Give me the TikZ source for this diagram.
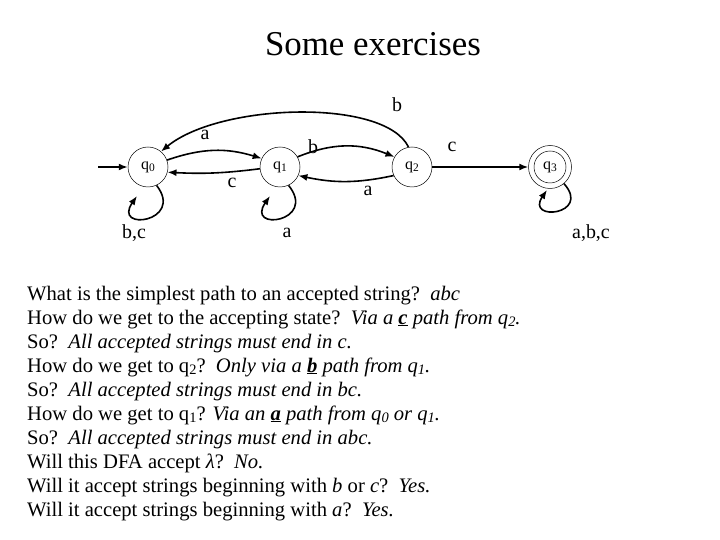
\documentclass[tikz,border=0pt]{standalone}
\usepackage{fontspec}
\setmainfont{Liberation Serif}
\usetikzlibrary{arrows.meta}
\newcommand\sbq[1]{\raisebox{-0.35ex}{\scalebox{0.72}{#1}}}
\newcommand\ub[1]{\underline{\textbf{#1}}}
\newcommand\sbt[1]{\raisebox{-0.3ex}{\scalebox{0.7}{#1}}}
\tikzset{
  state/.style={circle, draw, line width=0.5pt, minimum size=40bp, inner sep=0pt, font=\fontsize{16}{16}\selectfont},
  edge/.style={line width=1.6bp, -{Latex[length=9bp,width=7bp]}},
  lbl/.style={font=\fontsize{20}{20}\selectfont, inner sep=0pt},
  line/.style={anchor=base west, inner sep=0pt, font=\fontsize{20.7}{24}\selectfont},
}
\begin{document}
\begin{tikzpicture}[x=1bp,y=-1bp]
\useasboundingbox (0,0) rectangle (720,540);
\node[font=\fontsize{35}{35}\selectfont] (title) at (373,44) {Some exercises};

\node[state] (q0) at (148,167) {q\sbq{0}};
\node[state] (q1) at (280,167) {q\sbq{1}};
\node[state] (q2) at (412,167) {q\sbq{2}};
\node[state, minimum size=43bp] (q3) at (550,167) {};
\node[state, minimum size=32bp] (q3i) at (550,167) {q\sbq{3}};

\coordinate (start) at (98,167);
\draw[edge] (start) -- (q0);

\draw[edge] (q0.20) to[bend left=18] (q1.155);
\draw[edge] (q1.-175) to[bend left=5] (q0.-15);
\draw[edge] (q1.30) to[bend left=22] (q2.150);
\draw[edge] (q2.-155) to[bend left=12] (q1.-25);
\draw[edge] (q2.100) .. controls (385,98) and (220,103) .. (q0.50);
\draw[edge] (q2) -- (q3);

\coordinate (e0) at (137,196);
\coordinate (e1) at (270,196);
\coordinate (e3) at (547,190);
\draw[edge] (q0.-65) .. controls (185,222) and (112,232) .. (e0);
\draw[edge] (q1.-65) .. controls (318,222) and (245,232) .. (e1);
\draw[edge] (q3.-50) .. controls (592,215) and (525,222) .. (e3);

\node[lbl] (la) at (205,135) {a};
\node[lbl] (lc) at (232,183) {c};
\node[lbl] (lb) at (313,147) {b};
\node[lbl] (la2) at (368,191) {a};
\node[lbl] (lb2) at (397,105) {b};
\node[lbl] (lc2) at (452,147) {c};
\node[lbl] (lbc) at (134,233) {b,c};
\node[lbl] (la3) at (287,233) {a};
\node[lbl] (labc) at (591,233) {a,b,c};

\node[line] (t1) at (27,300) {What is the simplest path to an accepted string?\ \ \textit{abc}};
\node[line] (t2) at (27,324) {How do we get to the accepting state?\ \ \textit{Via a \ub{c} path from q\sbt{2}.}};
\node[line] (t3) at (27,348) {So?\ \ \textit{All accepted strings must end in c.}};
\node[line] (t4) at (27,372) {How do we get to q\sbt{2}?\ \ \textit{Only via a \ub{b} path from q\sbt{1}.}};
\node[line] (t5) at (27,396) {So?\ \ \textit{All accepted strings must end in bc.}};
\node[line] (t6) at (27,420) {How do we get to q\sbt{1}? \textit{Via an \ub{a} path from q\sbt{0} or q\sbt{1}.}};
\node[line] (t7) at (27,444) {So?\ \ \textit{All accepted strings must end in abc.}};
\node[line] (t8) at (27,468) {Will this DFA accept \textit{λ}?\ \ \textit{No.}};
\node[line] (t9) at (27,492) {Will it accept strings beginning with \textit{b} or \textit{c}?\ \ \textit{Yes.}};
\node[line] (t10) at (27,516) {Will it accept strings beginning with \textit{a}?\ \ \textit{Yes.}};
\end{tikzpicture}
\end{document}
